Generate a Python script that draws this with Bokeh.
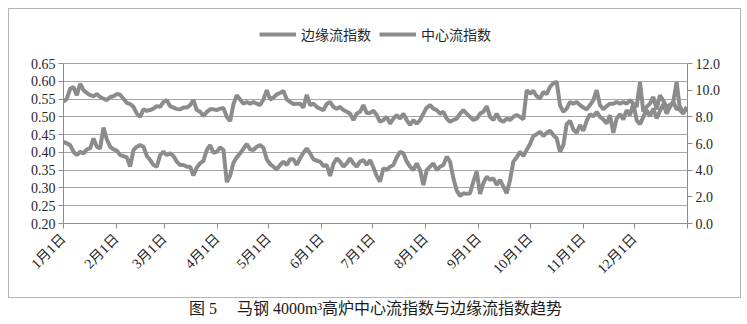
import math
from datetime import datetime
import pandas as pd
from bokeh.plotting import figure
from bokeh.models import (Range1d, LinearAxis, FixedTicker, Legend, LegendItem,
                          NumeralTickFormatter)
from bokeh.embed import file_html
from bokeh.resources import INLINE

# ---- data ----
edge_index = [
    0.542, 0.551, 0.579, 0.584, 0.561, 0.593, 0.575, 0.567, 0.561, 0.558,
    0.564, 0.556, 0.551, 0.547, 0.556, 0.558, 0.564, 0.562, 0.551, 0.539,
    0.536, 0.528, 0.509, 0.500, 0.521, 0.517, 0.519, 0.523, 0.530, 0.528,
    0.542, 0.547, 0.530, 0.526, 0.522, 0.521, 0.526, 0.526, 0.533, 0.547,
    0.519, 0.514, 0.502, 0.514, 0.521, 0.521, 0.519, 0.523,
    0.525, 0.500, 0.488, 0.535, 0.561, 0.549, 0.537, 0.542, 0.537, 0.542,
    0.537, 0.533, 0.549, 0.575, 0.549, 0.554, 0.563, 0.567, 0.573, 0.549,
    0.542, 0.536, 0.537, 0.537, 0.526, 0.562, 0.533, 0.537, 0.528, 0.523,
    0.519, 0.536, 0.542, 0.528, 0.523, 0.528, 0.519, 0.514, 0.509, 0.491,
    0.509, 0.514, 0.533, 0.511, 0.511, 0.517, 0.505, 0.486,
    0.491, 0.500, 0.481, 0.495, 0.505, 0.495, 0.509, 0.491, 0.477, 0.491,
    0.481, 0.491, 0.509, 0.526, 0.533, 0.523, 0.519, 0.509, 0.514, 0.495,
    0.486, 0.491, 0.495, 0.509, 0.519, 0.509, 0.500, 0.491, 0.495, 0.509,
    0.514, 0.530, 0.500, 0.491, 0.509, 0.491, 0.486, 0.495, 0.491, 0.500,
    0.505, 0.500, 0.493, 0.575, 0.565, 0.573,
    0.558, 0.551, 0.570, 0.564, 0.584, 0.595, 0.598, 0.533, 0.514, 0.523,
    0.542, 0.537, 0.542, 0.533, 0.526, 0.521, 0.533, 0.547, 0.575, 0.533,
    0.521, 0.530, 0.537, 0.537, 0.542, 0.537, 0.542, 0.537, 0.547, 0.537,
    0.528, 0.598, 0.514, 0.528, 0.537, 0.556, 0.521, 0.561, 0.545, 0.528,
    0.533, 0.542, 0.598, 0.519, 0.509, 0.528,
]

center_index = [
    6.13, 6.01, 5.88, 5.38, 5.13, 5.38, 5.26, 5.56, 5.63, 6.38,
    5.76, 5.63, 7.20, 6.30, 5.76, 5.56, 5.46, 5.13, 5.06, 4.96,
    4.26, 5.51, 5.76, 5.88, 5.76, 5.06, 4.76, 4.39, 4.26, 5.13,
    5.38, 5.13, 5.26, 5.06, 4.64, 4.39, 4.39, 4.26, 4.26, 3.60,
    4.20, 4.51, 4.71, 5.51, 5.88, 5.31, 5.38, 5.71,
    5.51, 3.10, 3.60, 4.56, 4.96, 5.26, 5.61, 5.96, 5.56, 5.51,
    5.76, 5.88, 5.68, 4.81, 4.46, 4.26, 4.06, 4.39, 4.64, 4.39,
    4.81, 4.81, 4.39, 4.89, 5.31, 5.63, 5.26, 4.81, 4.71, 4.64,
    4.31, 4.39, 3.56, 4.46, 4.89, 4.64, 4.26, 4.51, 4.89, 4.51,
    4.26, 4.64, 4.76, 4.39, 4.76, 4.21, 3.56, 3.14,
    4.14, 4.01, 4.26, 4.39, 4.96, 5.38, 5.26, 4.64, 4.26, 4.01,
    4.51, 4.01, 2.89, 4.01, 4.26, 4.51, 4.01, 4.26, 4.39, 5.01,
    4.64, 3.39, 2.47, 2.07, 2.27, 2.22, 2.27, 3.14, 3.89, 2.22,
    3.02, 3.51, 3.27, 3.39, 2.89, 3.27, 2.77, 2.27, 3.27, 4.64,
    4.96, 5.38, 5.06, 5.51, 5.96, 6.56,
    6.70, 6.88, 6.56, 6.80, 6.95, 6.63, 6.38, 5.38, 5.88, 7.45,
    7.70, 7.05, 6.80, 7.38, 6.95, 7.70, 8.20, 8.05, 8.37, 8.00,
    7.80, 7.50, 8.12, 6.80, 7.88, 8.20, 7.80, 8.50, 8.12, 9.00,
    7.75, 7.45, 8.00, 8.50, 8.05, 8.62, 7.88, 8.45, 8.95, 8.25,
    8.75, 9.12, 8.55, 8.75, 8.30, 8.62,
]

dates = pd.date_range("2013-01-01", "2013-12-31 12:00", periods=len(edge_index))

month_labels = ["1月1日", "2月1日", "3月1日", "4月1日", "5月1日", "6月1日",
                "7月1日", "8月1日", "9月1日", "10月1日", "11月1日", "12月1日", ""]
month_starts = [datetime(2013, m, 1) for m in range(1, 13)] + [datetime(2014, 1, 1)]
left_ticks = [0.20, 0.25, 0.30, 0.35, 0.40, 0.45, 0.50, 0.55, 0.60, 0.65]
right_ticks = [0, 2, 4, 6, 8, 10, 12]

series_names = ["边缘流指数", "中心流指数"]
NB = "\u00a0"
caption = "图" + NB + "5" + NB * 5 + "马钢" + NB + "4000m³高炉中心流指数与边缘流指数趋势"

# ---- styling / layout ----
LINE_COLOR = "#8c8c8c"
TEXT_COLOR = "#262626"
FONT = "'Liberation Serif', 'Noto Sans CJK SC'"
BOX = "linear-gradient(#b4b4b4, #b4b4b4)"

# the frame reaches up to hold the legend; axes/grid stop at the top tick
FRAME_TOP, FRAME_BOTTOM, AXIS_TOP = 20, 223, 63
stretch = (FRAME_BOTTOM - FRAME_TOP) / (FRAME_BOTTOM - AXIS_TOP)
left_lo, left_hi = left_ticks[0], left_ticks[-1]
right_lo, right_hi = right_ticks[0], right_ticks[-1]

epoch = datetime(1970, 1, 1)
tick_ms = [(d - epoch).total_seconds() * 1000.0 for d in month_starts]

p = figure(width=747, height=324, x_axis_type="datetime",
           x_range=Range1d(month_starts[0], month_starts[-1]),
           y_range=Range1d(left_lo, left_lo + (left_hi - left_lo) * stretch),
           output_backend="svg", toolbar_location=None,
           min_border_left=63, min_border_right=60,
           min_border_top=FRAME_TOP, min_border_bottom=324 - FRAME_BOTTOM)
p.outline_line_color = None
p.background_fill_color = "white"
p.border_fill_alpha = 0
# thin grey box around the chart (the caption sits below it)
p.styles = {
    "background-color": "white",
    "background-image": ", ".join([BOX] * 4),
    "background-position": "8px 8px, 8px 297px, 8px 8px, 740px 8px",
    "background-size": "733px 1px, 733px 1px, 1px 290px, 1px 290px",
    "background-repeat": "no-repeat",
}

p.extra_y_ranges = {"center": Range1d(right_lo, right_lo + (right_hi - right_lo) * stretch)}

r_edge = p.line(dates, edge_index, line_color=LINE_COLOR, line_width=4)
r_center = p.line(dates, center_index, y_range_name="center",
                  line_color=LINE_COLOR, line_width=4)

# x axis (its axis label carries the figure caption)
xa = p.xaxis[0]
xa.ticker = FixedTicker(ticks=tick_ms)
xa.major_label_overrides = {t: lab for t, lab in zip(tick_ms, month_labels)}
xa.major_label_orientation = math.pi / 4
p.xgrid.grid_line_color = None

# left axis
ya = p.yaxis[0]
ya.ticker = FixedTicker(ticks=left_ticks)
ya.formatter = NumeralTickFormatter(format="0.00")
ya.bounds = (left_lo, left_hi)
p.ygrid.ticker = FixedTicker(ticks=left_ticks)
p.ygrid.grid_line_color = "#a6a6a6"
p.ygrid.grid_line_width = 1

# right axis
ra = LinearAxis(y_range_name="center", ticker=FixedTicker(ticks=right_ticks),
                formatter=NumeralTickFormatter(format="0.0"), bounds=(right_lo, right_hi))
p.add_layout(ra, "right")

for ax in (xa, ya, ra):
    ax.axis_line_color = "#8c8c8c"
    ax.major_tick_line_color = "#8c8c8c"
    ax.major_tick_out = 5
    ax.major_tick_in = 0
    ax.minor_tick_line_color = None
    ax.major_label_text_font = FONT
    ax.major_label_text_font_size = "14px"
    ax.major_label_text_color = TEXT_COLOR
    ax.major_label_standoff = 3
xa.major_label_standoff = 8

xa.axis_label = caption
xa.axis_label_text_font = FONT
xa.axis_label_text_font_size = "16px"
xa.axis_label_text_font_style = "normal"
xa.axis_label_text_color = "#1a1a1a"
xa.axis_label_standoff = 15

legend = Legend(items=[LegendItem(label=series_names[0], renderers=[r_edge]),
                       LegendItem(label=series_names[1], renderers=[r_center])],
                orientation="horizontal", location="top_center",
                glyph_width=37, glyph_height=14, label_standoff=5, spacing=8,
                padding=0, margin=4, border_line_color=None,
                background_fill_alpha=0,
                label_text_font=FONT, label_text_font_size="14px",
                label_text_color=TEXT_COLOR)
p.add_layout(legend)

open("out.html", "w").write(file_html(p, INLINE))
